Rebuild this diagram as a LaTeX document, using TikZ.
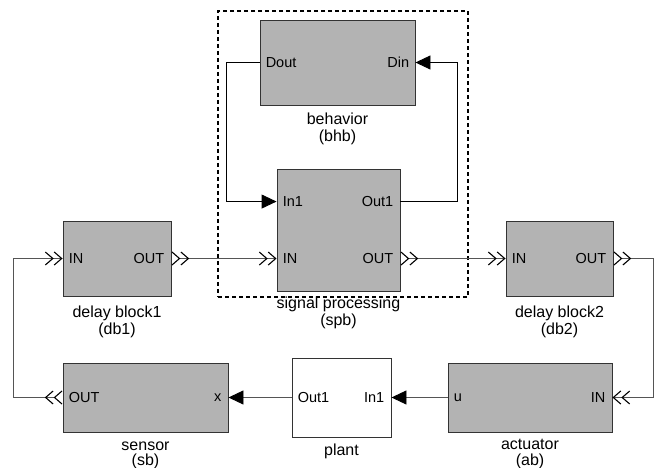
\documentclass[tikz,border=0pt]{standalone}
\usepackage{fontspec}
\setmainfont{Liberation Sans}
\usetikzlibrary{arrows.meta,positioning,calc}
\definecolor{blockfill}{HTML}{B3B3B3}
\definecolor{blockline}{HTML}{333333}
\definecolor{wirecol}{HTML}{555555}
\tikzset{
  block/.style={draw=blockline, fill=blockfill, line width=0.9pt, inner sep=0pt},
  whiteblock/.style={block, fill=white},
  groupbox/.style={draw=black, line width=1.2pt, dash pattern=on 4pt off 3pt, inner sep=0pt},
  portlbl/.style={inner sep=0pt, font=\fontsize{14.5}{16}\selectfont},
  caption/.style={inner sep=0pt, align=center, font=\fontsize{16}{17}\selectfont},
  wire/.style={draw=wirecol, line width=0.9pt},
  sigwire/.style={draw=black, line width=0.9pt},
  flow/.style={wire, arrows={{Straight Barb[reversed,length=7.5pt,width=13pt,line width=1.1pt,color=black,sep=0pt]Straight Barb[reversed,length=7.5pt,width=13pt,line width=1.1pt,color=black]}-{Straight Barb[length=7.5pt,width=13pt,line width=1.1pt,color=black,sep=0pt]Straight Barb[length=7.5pt,width=13pt,line width=1.1pt,color=black]}}},
  sig/.style={sigwire, -{Triangle[length=15pt,width=14pt,color=black]}},
  sigout/.style={wire, -{Triangle[length=15pt,width=14pt,color=black]}},
}
\begin{document}
\begin{tikzpicture}[x=1pt,y=-1pt]
\useasboundingbox (0,0) rectangle (657,468);
% group frame
\node[groupbox, minimum width=250pt, minimum height=286pt] (grp) at (343,154) {};
% blocks
\node[block, minimum width=155pt, minimum height=85pt] (bhb) at (337.5,62.5) {};
\node[block, minimum width=123pt, minimum height=122pt] (spb) at (338.5,230) {};
\node[block, minimum width=108pt, minimum height=75pt] (db1) at (117,258.5) {};
\node[block, minimum width=107pt, minimum height=75pt] (db2) at (559.5,258.5) {};
\node[block, minimum width=165pt, minimum height=69pt] (sb) at (145.5,397.5) {};
\node[whiteblock, minimum width=99pt, minimum height=79pt] (plant) at (341.5,397.5) {};
\node[block, minimum width=164pt, minimum height=69pt] (ab) at (530,397.5) {};
% ports
\coordinate (bhbDout) at (bhb.west);
\coordinate (bhbDin) at (bhb.east);
\coordinate (spbIn1) at ([yshift=-33pt]spb.north west);
\coordinate (spbOut1) at ([yshift=-33pt]spb.north east);
\coordinate (spbIN) at ([yshift=-90pt]spb.north west);
\coordinate (spbOUT) at ([yshift=-90pt]spb.north east);
\coordinate (db1IN) at (db1.west);
\coordinate (db1OUT) at (db1.east);
\coordinate (db2IN) at (db2.west);
\coordinate (db2OUT) at (db2.east);
\coordinate (sbOUT) at (sb.west);
\coordinate (sbx) at (sb.east);
\coordinate (plOut1) at (plant.west);
\coordinate (plIn1) at (plant.east);
\coordinate (abu) at (ab.west);
\coordinate (abIN) at (ab.east);
% port labels
\node[portlbl, anchor=west] at ([xshift=6pt]bhbDout) {Dout};
\node[portlbl, anchor=east] at ([xshift=-6pt]bhbDin) {Din};
\node[portlbl, anchor=west] at ([xshift=6pt]spbIn1) {In1};
\node[portlbl, anchor=east] at ([xshift=-7pt]spbOut1) {Out1};
\node[portlbl, anchor=west] at ([xshift=6pt]spbIN) {IN};
\node[portlbl, anchor=east] at ([xshift=-7pt]spbOUT) {OUT};
\node[portlbl, anchor=west] at ([xshift=6pt]db1IN) {IN};
\node[portlbl, anchor=east] at ([xshift=-7pt]db1OUT) {OUT};
\node[portlbl, anchor=west] at ([xshift=6pt]db2IN) {IN};
\node[portlbl, anchor=east] at ([xshift=-7pt]db2OUT) {OUT};
\node[portlbl, anchor=west] at ([xshift=6pt]sbOUT) {OUT};
\node[portlbl, anchor=east] at ([xshift=-7pt]sbx) {x};
\node[portlbl, anchor=west] at ([xshift=6pt]plOut1) {Out1};
\node[portlbl, anchor=east] at ([xshift=-7pt]plIn1) {In1};
\node[portlbl, anchor=west] at ([xshift=6pt]abu) {u};
\node[portlbl, anchor=east] at ([xshift=-7pt]abIN) {IN};
% captions
\node[caption, below=7pt of bhb] {behavior\\(bhb)};
\node[caption, below=5.5pt of spb] {signal processing\\(spb)};
\node[caption, below=9pt of db1] {delay block1\\(db1)};
\node[caption, below=9pt of db2] {delay block2\\(db2)};
\node[caption, below=9pt of sb] {sensor\\[-1.5pt](sb)};
\node[caption, below=6pt of plant] {plant};
\node[caption, below=7pt of ab] {actuator\\[-1.5pt](ab)};
% connectors
\coordinate (c1) at ([xshift=-33pt]bhbDout);
\draw[sig] (bhbDout) -- (c1) |- (spbIn1);
\coordinate (c2) at ([xshift=57pt]spbOut1);
\draw[sig] (spbOut1) -- (c2) |- (bhbDin);
\draw[flow] (db1OUT) -- (spbIN);
\draw[flow] (spbOUT) -- (db2IN);
\coordinate (c3) at ([xshift=40pt]db2OUT);
\draw[flow] (db2OUT) -- (c3) |- (abIN);
\draw[sigout] (abu) -- (plIn1);
\draw[sigout] (plOut1) -- (sbx);
\coordinate (c4) at ([xshift=-49pt]sbOUT);
\draw[flow] (sbOUT) -- (c4) |- (db1IN);
\end{tikzpicture}
\end{document}
